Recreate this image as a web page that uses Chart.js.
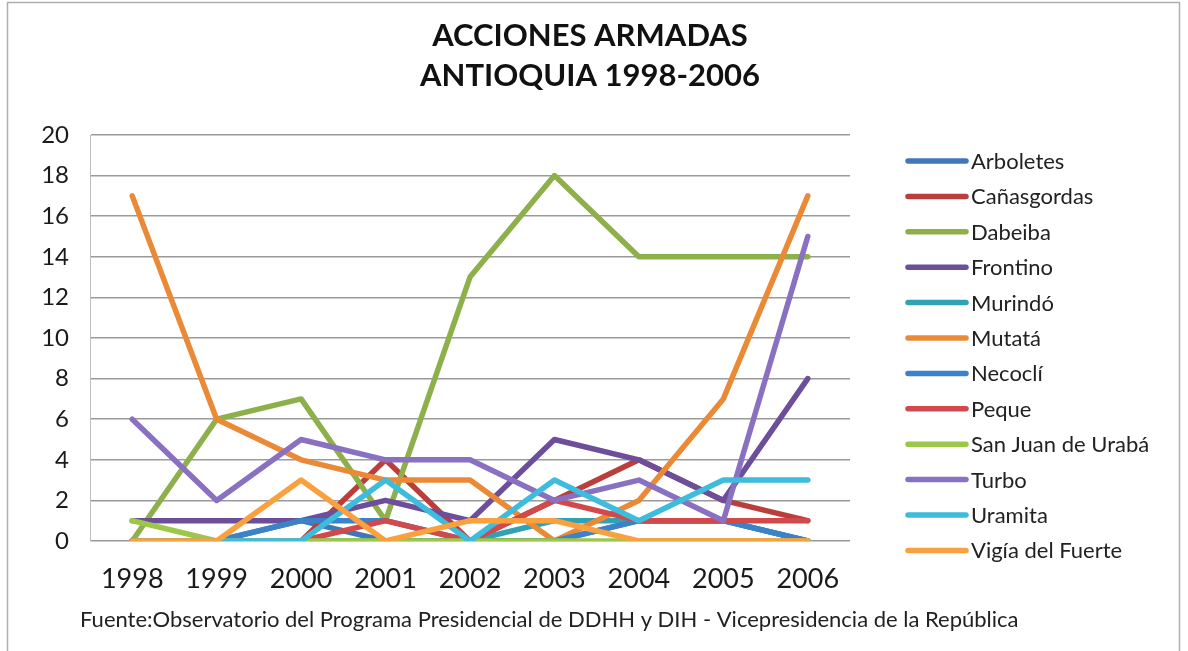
<!DOCTYPE html>
<html>
<head>
<meta charset="utf-8">
<script src="https://cdn.jsdelivr.net/npm/chart.js@4.4.1/dist/chart.umd.min.js"></script>
<style>
  html, body { margin: 0; padding: 0; background: #fff; }
  #wrap { position: relative; width: 1188px; height: 651px; }
  canvas { display: block; }
</style>
</head>
<body>
<div id="wrap"><canvas id="c" width="1188" height="651"></canvas></div>
<script>
const years = ['1998','1999','2000','2001','2002','2003','2004','2005','2006'];
const yTicks = [0,2,4,6,8,10,12,14,16,18,20];

const arboletes   = [0,0,1,0,0,0,1,1,0];
const canasgordas = [0,0,0,4,0,2,4,2,1];
const dabeiba     = [0,6,7,1,13,18,14,14,14];
const frontino    = [1,1,1,2,1,5,4,2,8];
const murindo     = [0,0,0,0,0,1,1,1,0];
const mutata      = [17,6,4,3,3,0,2,7,17];
const necocli     = [0,0,1,1,0,0,1,1,0];
const peque       = [0,0,0,1,0,2,1,1,1];
const sanJuan     = [1,0,0,0,0,0,0,0,0];
const turbo       = [6,2,5,4,4,2,3,1,15];
const uramita     = [0,0,0,3,0,3,1,3,3];
const vigia       = [0,0,3,0,1,1,0,0,0];

const seriesNames = ['Arboletes','Cañasgordas','Dabeiba','Frontino','Murindó','Mutatá','Necoclí','Peque','San Juan de Urabá','Turbo','Uramita','Vigía del Fuerte'];
const seriesData = [arboletes,canasgordas,dabeiba,frontino,murindo,mutata,necocli,peque,sanJuan,turbo,uramita,vigia];
const seriesColors = ['#3F77B8','#BA3F3C','#8DB04A','#6C4E9A','#2FA2B5','#EB8A36','#3B82C9','#D2494C','#9CC748','#8A70C0','#3EBCDD','#F9A03F'];

const titleLines = ['ACCIONES ARMADAS','ANTIOQUIA 1998-2006'];
const sourceText = 'Fuente:Observatorio del Programa Presidencial de DDHH y DIH - Vicepresidencia de la República';

const FONT = 'Lato, "Open Sans", sans-serif';

const datasets = seriesNames.map((n, i) => ({
  label: n,
  data: seriesData[i],
  borderColor: seriesColors[i],
  backgroundColor: seriesColors[i],
  borderWidth: 5.5,
  pointRadius: 0,
  tension: 0,
  fill: false,
  borderCapStyle: 'round',
  borderJoinStyle: 'round',
  order: seriesNames.length - i
}));

const decor = {
  id: 'decor',
  afterDraw(chart) {
    const ctx = chart.ctx;
    ctx.save();
    // frame
    ctx.strokeStyle = '#b0b0b0';
    ctx.lineWidth = 1.5;
    ctx.strokeRect(7.5, 2.5, 1172, 700);
    // title
    ctx.fillStyle = '#111';
    ctx.textAlign = 'center';
    ctx.textBaseline = 'middle';
    ctx.font = 'bold 31px ' + FONT;
    ctx.fillText(titleLines[0], 590, 36);
    ctx.fillText(titleLines[1], 590, 76);
    // legend
    ctx.textAlign = 'left';
    ctx.font = '22px ' + FONT;
    chart.data.datasets.forEach((ds, i) => {
      const y = 161 + i * 35.4;
      ctx.strokeStyle = ds.borderColor;
      ctx.lineWidth = 5.5;
      ctx.lineCap = 'round';
      ctx.beginPath();
      ctx.moveTo(908, y);
      ctx.lineTo(966, y);
      ctx.stroke();
      ctx.fillStyle = '#222';
      ctx.fillText(ds.label, 971, y + 1);
    });
    // source
    ctx.font = '22px ' + FONT;
    ctx.fillStyle = '#222';
    ctx.fillText(sourceText, 80, 620);
    ctx.restore();
  }
};

new Chart(document.getElementById('c'), {
  type: 'line',
  data: { labels: years, datasets },
  options: {
    responsive: false,
    animation: false,
    events: [],
    layout: { padding: { left: 0, right: 338, top: 135, bottom: 50 } },
    plugins: { legend: { display: false }, title: { display: false }, tooltip: { enabled: false } },
    scales: {
      x: {
        offset: true,
        grid: { display: false, drawTicks: false },
        border: { display: false },
        ticks: { color: '#1a1a1a', font: { family: FONT, size: 27 }, padding: 22, maxRotation: 0 },
        afterFit(s) { s.height = 60; }
      },
      y: {
        min: 0, max: 20,
        afterBuildTicks(s) { s.ticks = yTicks.map(v => ({ value: v })); },
        grid: { color: '#9a9a9a', lineWidth: 1.5, drawTicks: false },
        border: { display: true, color: '#bdbdbd', width: 1 },
        ticks: { color: '#1a1a1a', font: { family: FONT, size: 24 }, padding: 21 },
        afterFit(s) { s.width = 90; }
      }
    }
  },
  plugins: [decor]
});
</script>
</body>
</html>
